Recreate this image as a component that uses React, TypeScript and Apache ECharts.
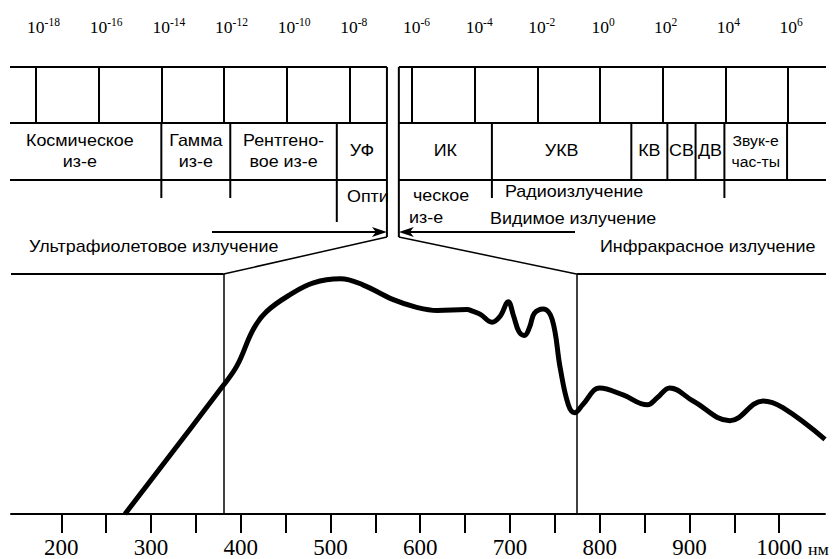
import React, { useEffect, useRef } from "react";
import * as echarts from "echarts";

// ---- data ----
const exponentTicks = [-18, -16, -14, -12, -10, -8, -6, -4, -2, 0, 2, 4, 6];
const nmTickValues = [200, 250, 300, 350, 400, 450, 500, 550, 600, 650, 700, 750, 800, 850, 900, 950, 1000];
const nmLabelValues = [200, 300, 400, 500, 600, 700, 800, 900, 1000];

const curveWavelength = [
  271, 380, 396, 414, 429, 455, 481, 511, 536, 570, 596, 619, 652, 659, 667,
  680, 689, 698, 704, 710, 716, 722, 727, 737, 747, 756, 765, 772, 781, 800, 826,
  853, 864, 878, 904, 945, 982, 1004, 1051,
];
const curveIntensity = [
  0, 53.3, 61.9, 77.0, 84.4, 91.4, 96.3, 98.0, 95.5, 89.3, 86.1, 84.8, 85.2, 84.4, 83.2,
  79.9, 82.4, 88.4, 82.5, 76.0, 74.4, 78.0, 83.5, 85.4, 81.1, 60.7, 45.5, 42.2, 45.5, 52.5, 49.6,
  45.5, 48.4, 52.5, 47.1, 38.9, 47.1, 44.3, 31.1,
];

const visibleBounds = [381, 774]; // nm
const slotEdges = [-6.8, -6.42]; // exponent
const bandEdges = [-14, -11.8, -8.4, -3.45, 1.0, 2.15, 3.05, 3.97, 5.97];
const groupEdges = [-14, -11.8, -3.45, 3.97];
const opticalEdge = -8.4;
const bandNames = ["Космическое\nиз-е", "Гамма\nиз-е", "Рентгено-\nвое из-е", "УФ", "ИК", "УКВ", "КВ", "СВ", "ДВ", "Звук-е\nчас-ты"];
const bandLeft = [-19.2, -14, -11.8, -8.4, -6.42, -3.45, 1.0, 2.15, 3.05, 3.97];
const bandRight = [-14, -11.8, -8.4, -6.8, -3.45, 1.0, 2.15, 3.05, 3.97, 5.97];

const SERIF = '"Liberation Serif", "Times New Roman", serif';
const SANS = '"Liberation Sans", Arial, sans-serif';

export default function App() {
  const ref = useRef<HTMLDivElement>(null);
  useEffect(() => {
    if (!ref.current) return;
    const chart = echarts.init(ref.current, undefined, { renderer: "svg" });
    const option: any = {
      animation: false,
      backgroundColor: "#fff",
      grid: [
        { left: 11, right: 15, top: 274, bottom: 41 },
        { left: 36, right: 52, top: 67, height: 56 },
      ],
      xAxis: [
        {
          gridIndex: 0,
          type: "value",
          min: 144,
          max: 1051,
          axisLine: { show: true, lineStyle: { color: "#000", width: 2 } },
          axisTick: { show: true, length: 19, inside: false, customValues: nmTickValues, lineStyle: { color: "#000", width: 2 } },
          axisLabel: {
            customValues: nmLabelValues,
            formatter: (v: number) => String(v),
            margin: 22,
            color: "#000",
            fontSize: 23,
            fontFamily: SERIF,
          },
          splitLine: { show: false },
        },
        {
          gridIndex: 1,
          type: "value",
          position: "top",
          min: -18,
          max: 6,
          interval: 2,
          axisLine: { show: false },
          axisTick: { show: true, length: 19, inside: false, lineStyle: { color: "#000", width: 2 } },
          splitLine: { show: true, lineStyle: { color: "#000", width: 2 } },
          axisLabel: {
            margin: 29,
            fontSize: 17,
            fontFamily: SERIF,
            color: "#000",
            formatter: (v: number) => {
              const s = String(v);
              return `{p${s.length}|\u00a0}{b|10}{s|${s}}`;
            },
            rich: {
              b: { fontSize: 17.5, lineHeight: 22, fontFamily: SERIF, color: "#000" },
              s: { fontSize: 11.5, lineHeight: 11, fontFamily: SERIF, color: "#000", verticalAlign: "top" },
              p1: { width: 6, fontSize: 11, lineHeight: 11 },
              p2: { width: 9, fontSize: 11, lineHeight: 11 },
              p3: { width: 15, fontSize: 11, lineHeight: 11 },
            },
          },
        },
      ],
      yAxis: [
        { gridIndex: 0, type: "value", min: 0, max: 100, show: false },
        { gridIndex: 1, type: "value", min: 0, max: 1, show: false },
      ],
      series: [
        {
          type: "line",
          xAxisIndex: 0,
          yAxisIndex: 0,
          data: curveWavelength.map((w, i) => [w, curveIntensity[i]]),
          smooth: 0.4,
          symbol: "none",
          lineStyle: { color: "#000", width: 5 },
          markLine: {
            silent: true,
            symbol: "none",
            label: { show: false },
            lineStyle: { color: "#000", width: 1.5, type: "solid" },
            data: visibleBounds.map((v) => ({ xAxis: v })),
          },
        },
      ],
    };
    chart.setOption(option);

    const ex = (e: number) => chart.convertToPixel({ xAxisIndex: 1 }, e) as number;
    const nx = (v: number) => chart.convertToPixel({ xAxisIndex: 0 }, v) as number;

    const Y1 = 67, Y2 = 123, Y3 = 180, Y_GROUP = 198, Y_OPT = 222, Y_SLOT = 237, Y_ARROW = 232, Y_PLOT = 274;
    const LINE_L = 10, LINE_R = 826;
    const sl = ex(slotEdges[0]);
    const sr = ex(slotEdges[1]);
    const vl = nx(visibleBounds[0]);
    const vr = nx(visibleBounds[1]);

    const line = (x1: number, y1: number, x2: number, y2: number, w = 2) => ({
      type: "line",
      shape: { x1, y1, x2, y2 },
      style: { stroke: "#000", lineWidth: w },
      silent: true,
    });
    const text = (t: string, x: number, y: number, size: number, align = "left", family = SANS, sx = 1.12, lh = 21) => ({
      type: "text",
      x,
      y,
      scaleX: sx,
      silent: true,
      style: {
        text: t,
        fill: "#000",
        font: `${size}px ${family}`,
        fontSize: size,
        fontFamily: family,
        lineHeight: lh,
        textAlign: align,
        textVerticalAlign: "middle",
        align,
        verticalAlign: "middle",
      },
    });

    const g: any[] = [];
    [Y1, Y2, Y3].forEach((y) => {
      g.push(line(LINE_L, y, sl, y));
      g.push(line(sr, y, LINE_R, y));
    });
    g.push(line(11, Y_PLOT, vl, Y_PLOT));
    g.push(line(vr, Y_PLOT, LINE_R, Y_PLOT));
    g.push(line(sl, Y1, sl, Y_SLOT));
    g.push(line(sr, Y1, sr, Y_SLOT));
    g.push(line(sl, Y_SLOT, vl, Y_PLOT, 1.5));
    g.push(line(sr, Y_SLOT, vr, Y_PLOT, 1.5));
    bandEdges.forEach((e) => {
      const x = ex(e);
      const bottom = groupEdges.includes(e) ? Y_GROUP : e === opticalEdge ? Y_OPT : Y3;
      g.push(line(x, Y2, x, bottom));
    });
    // arrows
    g.push(line(212, Y_ARROW, sl - 8, Y_ARROW));
    g.push({
      type: "polygon",
      silent: true,
      shape: { points: [[sl, Y_ARROW], [sl - 15, Y_ARROW - 5], [sl - 11, Y_ARROW], [sl - 15, Y_ARROW + 5]] },
      style: { fill: "#000" },
    });
    g.push(line(sr + 8, Y_ARROW, 575, Y_ARROW));
    g.push({
      type: "polygon",
      silent: true,
      shape: { points: [[sr, Y_ARROW], [sr + 15, Y_ARROW - 5], [sr + 11, Y_ARROW], [sr + 15, Y_ARROW + 5]] },
      style: { fill: "#000" },
    });
    // band labels
    bandNames.forEach((n, i) => {
      const cx = (ex(bandLeft[i]) + ex(bandRight[i])) / 2;
      const size = n.startsWith("Звук") ? 15 : 16;
      const sx = n.startsWith("Звук") ? 1.05 : 1.12;
      g.push(text(n, cx, 151, size, "center", SANS, sx));
    });
    g.push(text("Опти", 347, 197, 16));
    g.push(text("ческое", 413, 196, 16));
    g.push(text("из-е", 409, 218, 16));
    g.push(text("Радиоизлучение", 505, 192, 16));
    g.push(text("Видимое излучение", 490, 219, 16));
    g.push(text("Ультрафиолетовое излучение", 29, 247, 16));
    g.push(text("Инфракрасное излучение", 600, 247, 16));
    g.push(text("нм", 808, 550, 16, "left", SERIF, 1.12, 16));

    chart.setOption({ graphic: g });
    return () => chart.dispose();
  }, []);
  return <div ref={ref} style={{ position: "fixed", left: 0, top: 0, width: 840, height: 559 }} />;
}
